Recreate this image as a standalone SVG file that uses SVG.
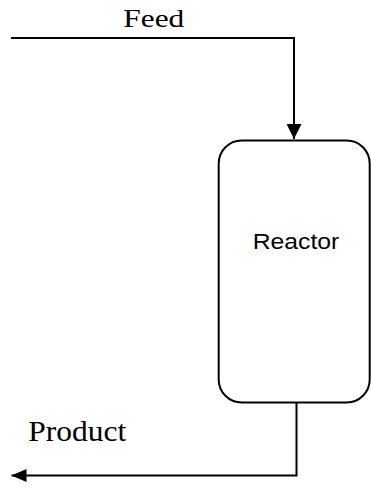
<svg xmlns="http://www.w3.org/2000/svg" width="371" height="489" viewBox="0 0 371 489">
  <style>
    .flow { fill: none; stroke: #000; stroke-width: 2; }
    .vessel { fill: #fff; stroke: #000; stroke-width: 2; }
    .serif { font-family: "Liberation Serif", "Times New Roman", serif; fill: #000; }
    .sans { font-family: "Liberation Sans", Arial, sans-serif; fill: #000; }
  </style>
  <defs>
    <marker id="arrow" viewBox="0 0 15 15" refX="15" refY="7.5" markerWidth="15" markerHeight="15" markerUnits="userSpaceOnUse" orient="auto">
      <path d="M0,0 L15,7.5 L0,15 Z" fill="#000"/>
    </marker>
    <marker id="arrowSmall" viewBox="0 0 15 13" refX="15" refY="6.5" markerWidth="15" markerHeight="13" markerUnits="userSpaceOnUse" orient="auto">
      <path d="M0,0 L15,6.5 L0,13 Z" fill="#000"/>
    </marker>
  </defs>

  <!-- stream lines -->
  <g id="connectors">
    <path class="flow" d="M11,38 H294 V139" marker-end="url(#arrow)"/>
    <path class="flow" d="M296.5,402.5 V475.5 H11.5" marker-end="url(#arrowSmall)"/>
  </g>

  <!-- reactor vessel -->
  <g id="reactor">
    <rect class="vessel" x="218.7" y="140.5" width="151" height="262" rx="23" ry="23"/>
    <text class="sans" x="252.7" y="249.3" font-size="22.4" textLength="86.6" lengthAdjust="spacingAndGlyphs">Reactor</text>
  </g>

  <!-- stream labels -->
  <g id="feed">
    <text class="serif" x="123.3" y="27.3" font-size="26" textLength="61" lengthAdjust="spacingAndGlyphs">Feed</text>
  </g>
  <g id="product">
    <text class="serif" x="28.3" y="441" font-size="29" textLength="98" lengthAdjust="spacingAndGlyphs">Product</text>
  </g>
</svg>
